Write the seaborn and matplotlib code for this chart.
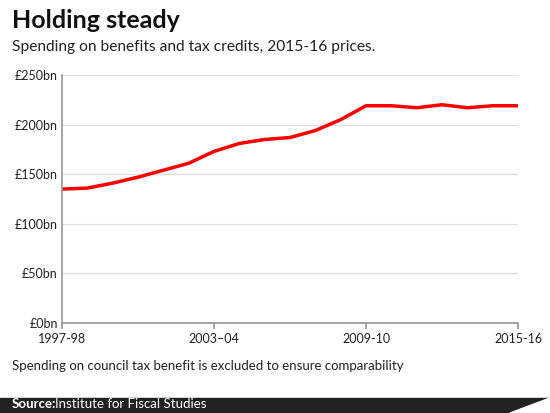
import matplotlib
matplotlib.use("Agg")
import matplotlib.pyplot as plt
import seaborn as sns
import pandas as pd

years = ["1997-98","1998-99","1999-00","2000-01","2001-02","2002-03","2003-04","2004-05","2005-06",
         "2006-07","2007-08","2008-09","2009-10","2010-11","2011-12","2012-13","2013-14","2014-15","2015-16"]
spending = [135,136,141,147,154,161,173,181,185,187,194,205,219,219,217,220,217,219,219]
tick_labels = ["1997-98","2003-04","2009-10","2015-16"]
y_ticks = [0,50,100,150,200,250]

sns.set_theme(style="white")
plt.rcParams['font.family'] = ['Lato', 'DejaVu Sans']

df = pd.DataFrame({"i": range(len(years)), "v": spending})
fig = plt.figure(figsize=(5.5,4.13), dpi=100)
ax = fig.add_axes([62/550, 1-323/413, (518-62)/550, (323-75)/413])
sns.lineplot(data=df, x="i", y="v", ax=ax, color="#ff0000", linewidth=2.5)
ax.set_xlim(0, len(years)-1)
ax.set_ylim(0, 250)
ax.set_yticks(y_ticks)
ax.set_yticklabels([f"£{t}bn" for t in y_ticks], fontsize=9, color="#222")
ax.set_xticks([years.index(t) for t in tick_labels])
ax.set_xticklabels([t.replace("-", "–") if t == "2003-04" else t for t in tick_labels], fontsize=9, color="#222")
ax.set_xlabel(""); ax.set_ylabel("")
ax.grid(axis="y", color="#dddddd", linewidth=0.8)
for s in ["top","right"]:
    ax.spines[s].set_visible(False)
ax.spines["left"].set_color("#999"); ax.spines["bottom"].set_color("#999")
ax.tick_params(axis="x", length=4, color="#999", bottom=True)
ax.tick_params(axis="y", length=0, pad=3)

fig.text(12/550, 1-20/413, "Holding steady", fontsize=18, fontweight="bold", va="center", color="#111")
fig.text(12/550, 1-47/413, "Spending on benefits and tax credits, 2015-16 prices.", fontsize=11.2, va="center", color="#222")
fig.text(12/550, 1-366/413, "Spending on council tax benefit is excluded to ensure comparability", fontsize=9.5, va="center", color="#222")
fig.patches.append(plt.Rectangle((0,0),1,15/413, transform=fig.transFigure, color="#222222", zorder=0))
fig.patches.append(plt.Polygon([(1,0),(1,15/413),(510/550,0)], transform=fig.transFigure, color="white", zorder=1))
fig.text(12/550, 3/413, "Source:", fontsize=9.5, fontweight="bold", color="white", va="bottom")
fig.text(55/550, 3/413, "Institute for Fiscal Studies", fontsize=9.5, color="white", va="bottom")
fig.savefig("out.png", dpi=100)
